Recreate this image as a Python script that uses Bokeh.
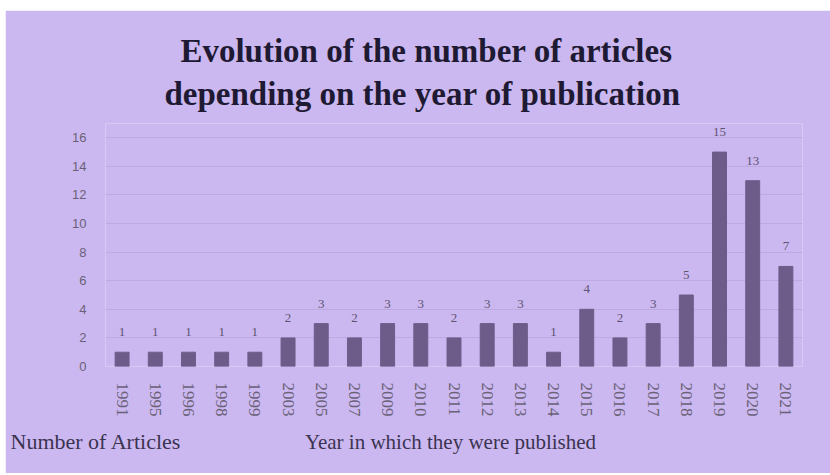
from bokeh.plotting import figure
from bokeh.models import ColumnDataSource, LabelSet, Label, Range1d, Spacer
from bokeh.layouts import column, row
from bokeh.embed import file_html
from bokeh.resources import INLINE

years = ["1991", "1995", "1996", "1998", "1999", "2003", "2005", "2007", "2009", "2010",
         "2011", "2012", "2013", "2014", "2015", "2016", "2017", "2018", "2019", "2020", "2021"]
counts = [1, 1, 1, 1, 1, 2, 3, 2, 3, 3, 2, 3, 3, 1, 4, 2, 3, 5, 15, 13, 7]
y_ticks = [0, 2, 4, 6, 8, 10, 12, 14, 16]
title_lines = ["Evolution of the number of articles", "depending on the year of publication"]
y_title = "Number of Articles"
x_title = "Year in which they were published"

bg = "#cbb8f0"
bar_color = "#6d5c8a"
tick_color = "#6a6176"

src = ColumnDataSource(dict(year=years, count=counts, label=[str(c) for c in counts]))

p = figure(x_range=years, y_range=Range1d(0, 17), width=825, height=463,
           output_backend="svg", toolbar_location=None,
           background_fill_color=bg, border_fill_color=bg, outline_line_color=None,
           min_border_left=100, min_border_right=28, min_border_top=113, min_border_bottom=107)

p.vbar(x="year", top="count", width=0.42, source=src, color=bar_color)

p.add_layout(LabelSet(x="year", y="count", text="label", source=src, y_offset=16,
                      text_align="center", text_baseline="bottom",
                      text_font="Liberation Sans", text_font_size="13px", text_color="#5e5570"))

p.yaxis.ticker = y_ticks
p.yaxis.axis_line_color = None
p.yaxis.major_tick_line_color = None
p.yaxis.minor_tick_line_color = None
p.yaxis.major_label_standoff = 13
p.yaxis.major_label_text_font = "Liberation Sans"
p.yaxis.major_label_text_font_size = "13px"
p.yaxis.major_label_text_color = tick_color

p.xaxis.axis_line_color = None
p.xaxis.major_tick_line_color = None
p.xaxis.minor_tick_line_color = None
p.xaxis.major_label_orientation = "vertical"
p.xaxis.major_label_standoff = 10
p.xaxis.major_label_text_font = "Liberation Serif"
p.xaxis.major_label_text_font_size = "17px"
p.xaxis.major_label_text_color = tick_color

p.xgrid.grid_line_color = None
p.ygrid.grid_line_color = "#bcaae0"
p.ygrid.grid_line_width = 1

title_style = dict(x_units="canvas", y_units="canvas", text_align="center",
                   text_baseline="alphabetic", text_font="Liberation Serif",
                   text_font_style="bold", text_font_size="33px", text_color="#1f1a33")
p.add_layout(Label(x=421, y=40, text=title_lines[0], **title_style), "above")
p.add_layout(Label(x=417, y=83, text=title_lines[1], **title_style), "above")

bottom_style = dict(x_units="canvas", y_units="canvas", text_baseline="alphabetic",
                    text_font="Liberation Serif", text_color="#3b3450")
p.add_layout(Label(x=5, y=431, text=y_title, text_align="left",
                   text_font_size="22px", **bottom_style), "below")
p.add_layout(Label(x=445, y=431, text=x_title, text_align="center",
                   text_font_size="21px", **bottom_style), "below")

layout = column(Spacer(height=10), row(Spacer(width=5), p))
open("out.html", "w").write(file_html(layout, INLINE))
